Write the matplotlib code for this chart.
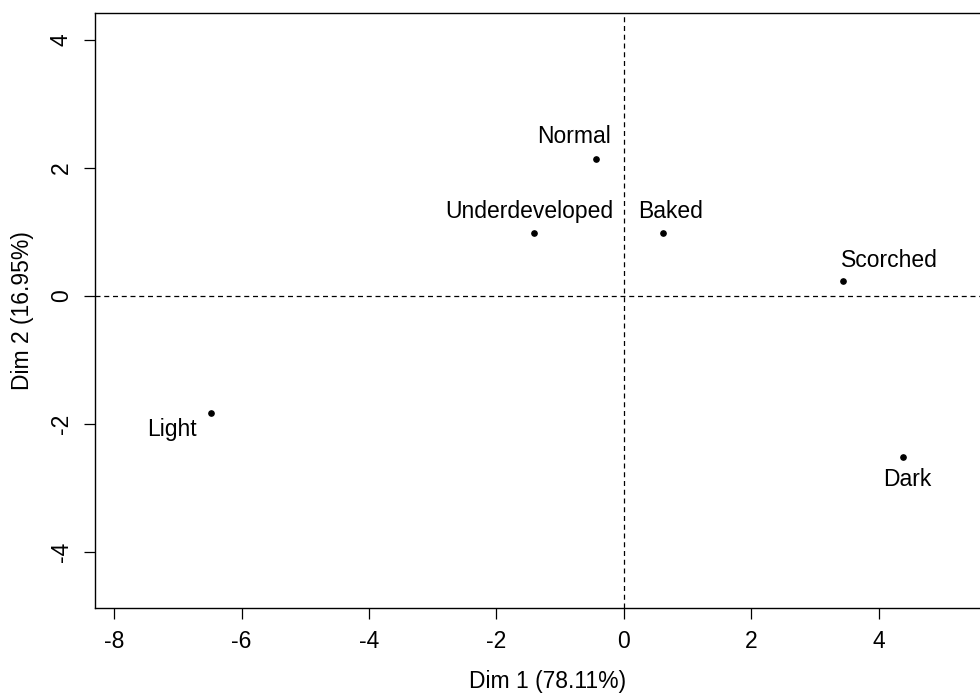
import matplotlib
matplotlib.use("Agg")
import matplotlib.pyplot as plt

# Scores des individus (plan factoriel Dim 1 / Dim 2)
labels = ["Normal", "Underdeveloped", "Baked", "Scorched", "Light", "Dark"]
dim1 = [-0.44, -1.41, 0.61, 3.44, -6.48, 4.38]
dim2 = [2.14, 0.98, 0.98, 0.23, -1.83, -2.52]

x_ticks = [-8, -6, -4, -2, 0, 2, 4]
y_ticks = [-4, -2, 0, 2, 4]
x_label = "Dim 1 (78.11%)"
y_label = "Dim 2 (16.95%)"

# décalage des étiquettes (en pixels), comme le placement auto de R
label_offsets = [(-22, 22), (-5, 22), (8, 22), (46, 21), (-39, -16), (4, -22)]

plt.rcParams['font.family'] = ['Liberation Sans', 'DejaVu Sans']
plt.rcParams['axes.unicode_minus'] = False

FS = 16.5

fig = plt.figure(figsize=(9.8, 6.98), dpi=100)
ax = fig.add_axes([0.0969, 0.1289, 0.9235, 0.8524])

ax.axhline(0, color='black', linestyle=(0, (4, 3)), linewidth=0.9, zorder=1)
ax.axvline(0, color='black', linestyle=(0, (4, 3)), linewidth=0.9, zorder=1)

ax.plot(dim1, dim2, 'o', color='black', markersize=3.8, zorder=3)

for lab, x, y, off in zip(labels, dim1, dim2, label_offsets):
    ax.annotate(lab, (x, y), xytext=off, textcoords='offset pixels',
                ha='center', va='center', fontsize=FS, color='black')

ax.set_xlim(-8.3, 5.9)
ax.set_ylim(-4.875, 4.42)
ax.set_xticks(x_ticks)
ax.set_yticks(y_ticks)
ax.tick_params(axis='both', direction='out', length=8, width=0.9,
               labelsize=FS, pad=8)
for t in ax.get_yticklabels():
    t.set_rotation(90)
    t.set_va('center')

ax.set_xlabel(x_label, fontsize=FS, labelpad=12)
ax.set_ylabel(y_label, fontsize=FS, labelpad=11)

for sp in ax.spines.values():
    sp.set_linewidth(1.0)

fig.savefig("out.png", dpi=100)
